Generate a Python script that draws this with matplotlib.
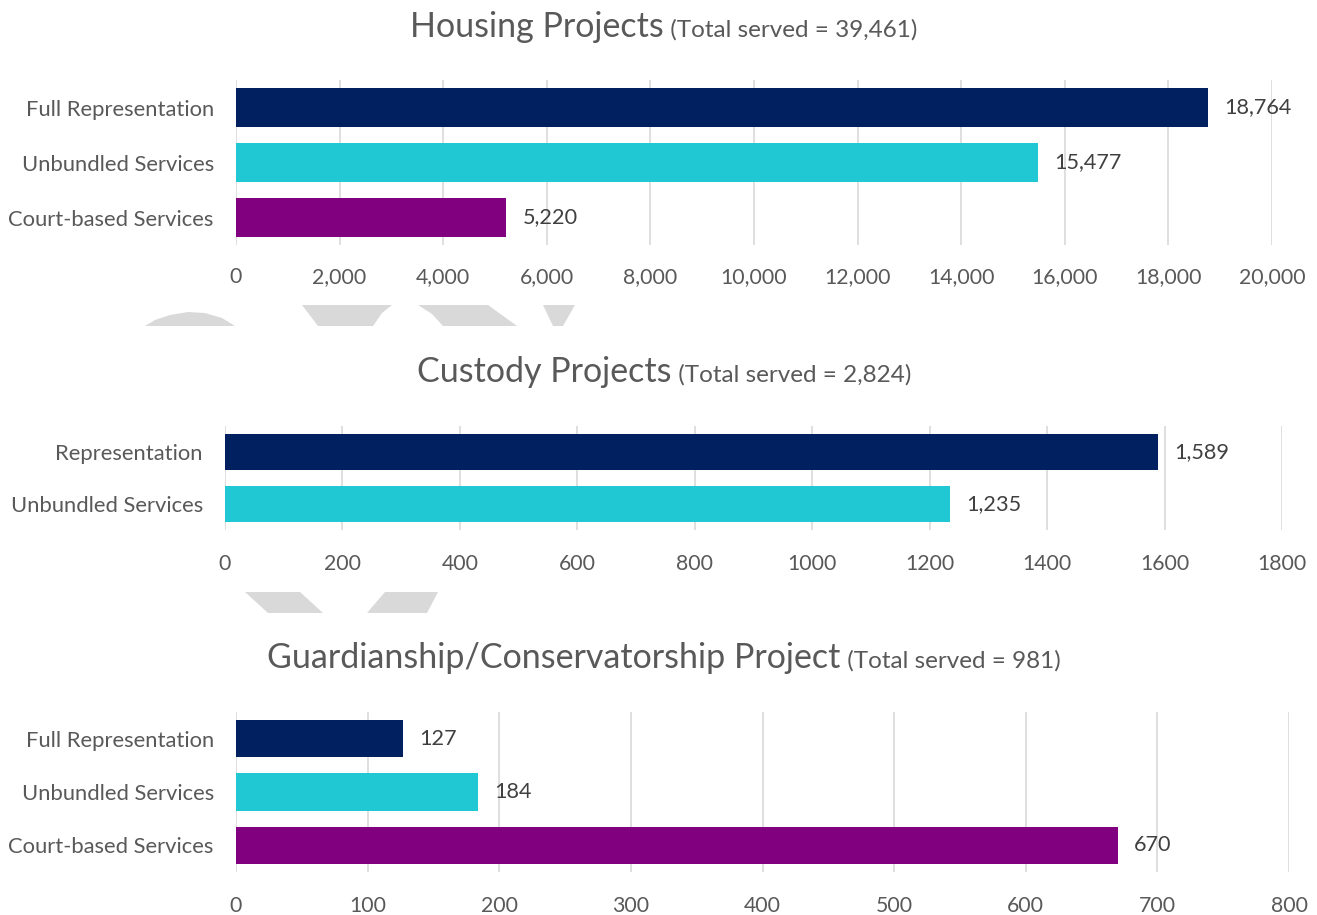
import matplotlib.pyplot as plt
from matplotlib.patches import Polygon
from matplotlib.ticker import FuncFormatter

W, H = 1317, 915

housing_cats = ["Full Representation", "Unbundled Services", "Court-based Services"]
housing_vals = [18764, 15477, 5220]
housing_total = "39,461"

custody_cats = ["Representation", "Unbundled Services"]
custody_vals = [1589, 1235]
custody_total = "2,824"

guard_cats = ["Full Representation", "Unbundled Services", "Court-based Services"]
guard_vals = [127, 184, 670]
guard_total = "981"

NAVY = "#002060"
CYAN = "#1FC8D3"
PURPLE = "#800080"
BAR_COLORS = [NAVY, CYAN, PURPLE]
TXT = "#595959"
VAL = "#404040"
GRID = "#D9D9D9"
FONT = "Lato"

plt.rcParams["font.family"] = FONT

fig = plt.figure(figsize=(W / 100, H / 100), dpi=100, facecolor="white")


def px_axes(left, right, top, bottom):
    return fig.add_axes([left / W, 1 - bottom / H, (right - left) / W, (bottom - top) / H])


def draw_panel(box, cats, vals, xmax, step, comma_ticks, title, total, baseline_y, tick_pad):
    ax = px_axes(*box)
    y = list(range(len(cats)))
    ax.barh(y, vals, height=0.7, color=BAR_COLORS[: len(cats)], zorder=3)
    ax.set_xlim(0, xmax)
    ax.set_ylim(len(cats) - 0.5, -0.5)
    ax.set_yticks(y)
    ax.set_yticklabels(cats, fontsize=15.8, color=TXT)
    ax.set_xticks(range(0, xmax + 1, step))
    if comma_ticks:
        ax.xaxis.set_major_formatter(FuncFormatter(lambda v, p: f"{int(v):,}"))
    ax.tick_params(axis="x", labelsize=15.3, labelcolor=TXT, length=0, pad=tick_pad)
    ax.tick_params(axis="y", length=0, pad=16)
    ax.grid(axis="x", color=GRID, linewidth=1.2, zorder=0)
    for s in ax.spines.values():
        s.set_visible(False)
    ax.set_facecolor("none")
    for yi, v in zip(y, vals):
        ax.annotate(f"{v:,}", xy=(v, yi), xytext=(11.5, 0), textcoords="offset points",
                    ha="left", va="center", fontsize=15.6, color=VAL)

    t1 = fig.text(0, 1 - baseline_y / H, title, fontsize=24.5, color=TXT,
                  va="baseline", ha="left")
    t2 = fig.text(0, 1 - baseline_y / H, f" (Total served = {total})", fontsize=17.5,
                  color=TXT, va="baseline", ha="left")
    fig.canvas.draw()
    r = fig.canvas.get_renderer()
    w1 = t1.get_window_extent(r).width
    w2 = t2.get_window_extent(r).width
    x0 = 664 - (w1 + w2) / 2
    t1.set_x(x0 / W)
    t2.set_x((x0 + w1) / W)
    return ax


# faint watermark fragments peeking between the panels
shapes = [
    [(145, 326), (155, 320), (170, 315), (188, 312), (205, 313), (222, 318), (235, 326)],
    [(302, 305), (392, 305), (382, 313), (373, 326), (318, 326)],
    [(418, 305), (488, 305), (517, 326), (443, 326), (432, 314)],
    [(543, 305), (575, 305), (563, 326), (553, 326)],
    [(245, 592), (300, 592), (323, 613), (268, 613)],
    [(385, 592), (438, 592), (427, 613), (367, 613)],
]
for pts in shapes:
    fig.patches.append(Polygon([(x / W, 1 - yy / H) for x, yy in pts], closed=True,
                               transform=fig.transFigure, facecolor="#D9D9D9",
                               edgecolor="none", zorder=0))

draw_panel((236, 1272, 80, 245), housing_cats, housing_vals, 20000, 2000, True,
           "Housing Projects", housing_total, 37, 16)
draw_panel((225, 1282, 426, 530), custody_cats, custody_vals, 1800, 200, False,
           "Custody Projects", custody_total, 382, 17)
draw_panel((236, 1289, 712, 872), guard_cats, guard_vals, 800, 100, False,
           "Guardianship/Conservatorship Project", guard_total, 668, 17)

fig.savefig("out.png", dpi=100, facecolor="white")
